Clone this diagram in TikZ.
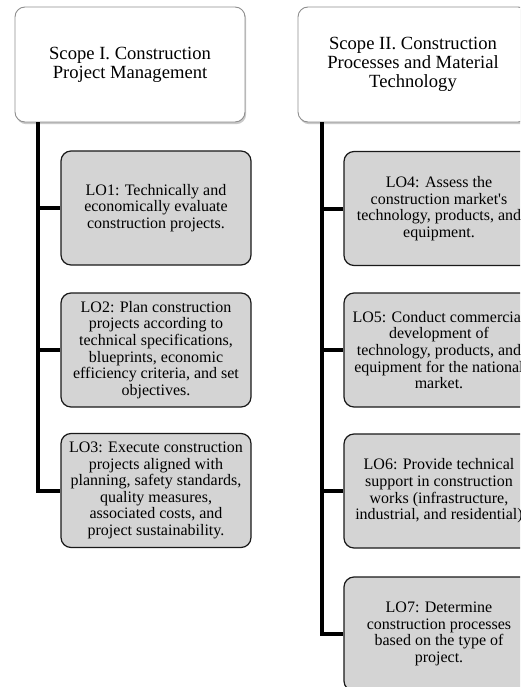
\documentclass[tikz,border=0pt]{standalone}
\usepackage{fontspec}
\setmainfont{Liberation Serif}
\usetikzlibrary{shadows}
\definecolor{lofill}{HTML}{D4D4D4}
\definecolor{scopeline}{HTML}{8E8E8E}
\begin{document}
\begin{tikzpicture}[x=1pt,y=-1pt,
  scopebox/.style={draw=scopeline, line width=0.9pt, fill=white, rounded corners=10pt,
    minimum width=230pt, minimum height=115pt, align=center, inner sep=0pt,
    font=\fontsize{18.6}{19}\selectfont,
    drop shadow={shadow xshift=1.2pt, shadow yshift=-2.2pt, opacity=0.35, fill=black!60}},
  lobox/.style={draw=black!90, line width=1.2pt, fill=lofill, rounded corners=10pt,
    minimum width=190pt, minimum height=114pt, align=center, inner sep=0pt,
    font=\fontsize{16}{16.6}\selectfont},
  conn/.style={line width=4pt, black}]
\useasboundingbox (0,0) rectangle (520,687);
\clip (0,0) rectangle (520,687);

\node[scopebox] (s1) at (130,64.5) {Scope I. Construction\\Project Management};
\node[scopebox] (s2) at (413,64.5) {Scope II. Construction\\Processes and Material\\Technology};

\node[lobox] (lo1) at (156,208) {LO1: Technically and\\economically evaluate\\construction projects.};
\node[lobox] (lo2) at (156,350) {LO2: Plan construction\\projects according to\\technical specifications,\\blueprints, economic\\efficiency criteria, and set\\objectives.};
\node[lobox] (lo3) at (156,490.5) {LO3: Execute construction\\projects aligned with\\planning, safety standards,\\quality measures,\\associated costs, and\\project sustainability.};

\node[lobox] (lo4) at (439,208.5) {LO4: Assess the\\construction market\textquotesingle s\\technology, products, and\\equipment.};
\node[lobox] (lo5) at (439,350) {LO5: Conduct commercial\\development of\\technology, products, and\\equipment for the national\\market.};
\node[lobox] (lo6) at (439,491) {LO6: Provide technical\\support in construction\\works (infrastructure,\\industrial, and residential)};
\node[lobox] (lo7) at (439,634) {LO7: Determine\\construction processes\\based on the type of\\project.};

\coordinate (t1) at ([xshift=23pt]s1.south west);
\coordinate (t2) at ([xshift=24pt]s2.south west);
\draw[conn] (t1) |- (lo1.west);
\draw[conn] (t1) |- (lo2.west);
\draw[conn] (t1) |- (lo3.west);
\draw[conn] (t2) |- (lo4.west);
\draw[conn] (t2) |- (lo5.west);
\draw[conn] (t2) |- (lo6.west);
\draw[conn] (t2) |- (lo7.west);
\end{tikzpicture}
\end{document}
